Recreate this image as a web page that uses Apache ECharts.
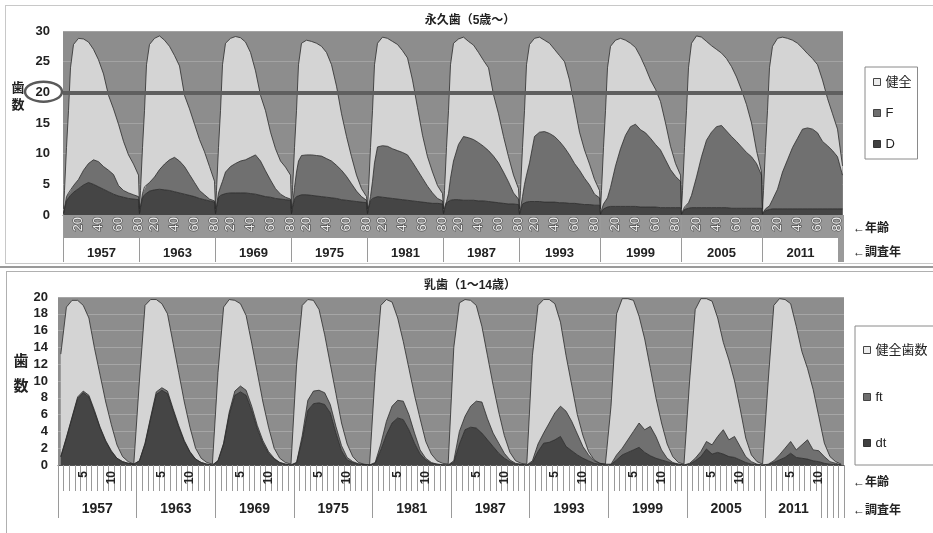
<!DOCTYPE html>
<html>
<head>
<meta charset="utf-8">
<script src="https://cdn.jsdelivr.net/npm/echarts@6/dist/echarts.min.js"></script>
<style>
  html, body { margin: 0; padding: 0; background: #fff; width: 933px; height: 533px; overflow: hidden; position: relative; }
  #frameTop { position: absolute; left: 5px; top: 5px; width: 940px; height: 257px; border: 1px solid #c8c8c8; }
  #sep { position: absolute; left: 0; top: 266px; width: 933px; border-top: 2px solid #9a9a9a; }
  #frameBottom { position: absolute; left: 6px; top: 271px; width: 940px; height: 280px; border: 1px solid #b0b0b0; }
  #chartTop { position: absolute; left: 0; top: 0; width: 933px; height: 265px; }
  #chartBottom { position: absolute; left: 0; top: 265px; width: 933px; height: 268px; }
</style>
</head>
<body>
<div id="frameTop"></div>
<div id="sep"></div>
<div id="frameBottom"></div>
<div id="chartTop"></div>
<div id="chartBottom"></div>
<script>
const FONT = "'Liberation Sans', 'Noto Sans CJK JP', sans-serif";
const PLOT_BG = '#8d8d8d';

// ---- 永久歯 (5歳〜) ----
const permYears = ['1957', '1963', '1969', '1975', '1981', '1987', '1993', '1999', '2005', '2011'];
const permLastAge = [80, 80, 80, 80, 80, 80, 85, 85, 85, 85];
const permLabelLastAge = [80, 80, 80, 80, 80, 80, 85, 85, 85, 80];
const permAges = [5, 6, 8, 10, 12, 15, 20, 25, 30, 35, 40, 45, 50, 55, 60, 65, 70, 75, 80, 85];
const permAgeTicks = [20, 40, 60, 80];
// D
const permD = [
  [0.2, 1, 2.3, 2.8, 3.2, 3.7, 4.3, 4.9, 5.3, 5, 4.6, 4.2, 3.8, 3.4, 3.1, 2.9, 2.7, 2.6, 2.5],
  [0.2, 1.2, 2.8, 3.3, 3.6, 3.9, 4.1, 4.2, 4.1, 4, 3.8, 3.6, 3.4, 3.2, 3, 2.7, 2.5, 2.3, 2.1],
  [0.2, 1.2, 2.8, 3.2, 3.4, 3.5, 3.6, 3.6, 3.6, 3.6, 3.5, 3.4, 3.2, 3, 2.9, 2.7, 2.6, 2.5, 2.4],
  [0.2, 1.2, 2.6, 3, 3.2, 3.3, 3.3, 3.2, 3.1, 3, 2.9, 2.8, 2.7, 2.5, 2.4, 2.3, 2.2, 2.1, 2],
  [0.2, 1.1, 2.3, 2.7, 2.9, 3, 2.9, 2.8, 2.7, 2.6, 2.5, 2.4, 2.3, 2.2, 2.1, 2, 1.9, 1.9, 1.8],
  [0.2, 0.9, 2, 2.3, 2.4, 2.5, 2.5, 2.4, 2.4, 2.4, 2.3, 2.3, 2.2, 2.1, 2, 1.9, 1.8, 1.8, 1.7],
  [0.1, 0.7, 1.8, 2, 2.1, 2.2, 2.2, 2.2, 2.1, 2.1, 2.1, 2, 2, 1.9, 1.9, 1.8, 1.7, 1.7, 1.6, 1.6],
  [0.1, 0.5, 1, 1.2, 1.3, 1.4, 1.4, 1.4, 1.4, 1.4, 1.4, 1.3, 1.3, 1.3, 1.3, 1.2, 1.2, 1.2, 1.2, 1.2],
  [0.1, 0.4, 0.9, 1, 1.1, 1.2, 1.2, 1.2, 1.2, 1.2, 1.2, 1.2, 1.2, 1.1, 1.1, 1.1, 1.1, 1.1, 1.1, 1.1],
  [0.1, 0.3, 0.7, 0.8, 0.9, 1, 1, 1, 1, 1, 1, 1, 1, 1, 1, 1, 1, 1, 1, 1]
];
// F
const permF = [
  [0.1, 0.2, 0.7, 0.8, 0.7, 1.1, 1.5, 2.4, 3.1, 4, 4.1, 3.7, 3.5, 3.2, 1.7, 1.1, 0.9, 0.7, 0.5],
  [0.1, 0.3, 0.7, 1.3, 1.3, 1.4, 2.1, 3.2, 4.2, 5, 5.6, 5.2, 4.5, 3.4, 2.3, 1.3, 0.8, 0.3, 0.2],
  [0.1, 0.3, 0.8, 1.4, 2.1, 3.5, 4.3, 4.8, 5.2, 5.4, 5.9, 6.4, 5.6, 4.2, 2.8, 1.6, 0.8, 0.4, 0.2],
  [0.1, 0.3, 1.9, 4, 5.6, 6.4, 6.5, 6.6, 6.6, 6.6, 6.3, 6, 5.4, 4.8, 3.9, 2.8, 1.7, 0.9, 0.4],
  [0.1, 0.2, 0.7, 2.8, 5.6, 8.1, 8.4, 8.4, 8.1, 7.9, 7.7, 7.4, 6.3, 5.1, 3.9, 2.7, 1.7, 0.8, 0.5],
  [0.1, 0.3, 0.2, 1.2, 3.6, 6.3, 9, 10.4, 10.2, 9.9, 9.5, 8.9, 8.3, 7.5, 6.5, 5.1, 3.6, 1.8, 0.9],
  [0.1, 0.3, 1.2, 3, 4.4, 6.3, 10.6, 11.3, 11.5, 11.2, 10.7, 10, 9, 7.9, 6.5, 5.5, 4.3, 3.2, 1.8, 1.2],
  [0.1, 0.3, 0.8, 1.1, 1.5, 3.1, 6.6, 9.4, 11.6, 13, 13.4, 12.6, 12.1, 11.2, 10.2, 9.4, 7.8, 6.2, 5.1, 4.3],
  [0.1, 0.2, 0.4, 0.6, 0.9, 2, 5, 8.3, 11, 12.3, 13.2, 13.4, 12.5, 11.7, 10.9, 10, 9.1, 8.4, 7.3, 5.4],
  [0.1, 0.2, 0.3, 0.4, 0.6, 1.5, 3.2, 6, 8, 10, 11.5, 13, 13.2, 13, 12.4, 11, 10.3, 9.5, 8.5, 5.5]
];
// 健全
const permS = [
  [0.7, 2.8, 8, 13.4, 20.1, 23, 23, 21.4, 19.8, 18, 16.6, 15.1, 12.2, 10.7, 10, 8, 6.2, 5, 3.5],
  [0.7, 2.5, 7.5, 12.4, 19.6, 22.5, 22.6, 21.8, 20.2, 18.5, 16.6, 15.5, 11.6, 10.7, 9.5, 8.3, 7, 5.3, 3.2],
  [0.7, 2.5, 7.4, 12.4, 19, 21, 20.9, 20.7, 20.1, 19.2, 17.1, 13.7, 10.7, 9.8, 7.8, 6.5, 5.4, 4.9, 3.9],
  [0.7, 2.5, 6.5, 10, 15.7, 18.3, 18.7, 18.5, 18.3, 17.9, 17.3, 15.7, 12.9, 9.2, 6.5, 4.4, 2.6, 1.3, 0.6],
  [0.7, 2.7, 8, 11.5, 16, 16.9, 17.7, 17.6, 17.5, 17.3, 16.6, 15.8, 13.4, 10.2, 7, 4.8, 3.4, 2.1, 1.2],
  [0.7, 2.8, 8.8, 13.5, 18.5, 19.2, 17.2, 16.2, 15.7, 15.4, 14.7, 14, 13.5, 10, 8, 5.8, 4.1, 2.9, 1.7],
  [0.8, 3, 8, 12, 18, 19.3, 16, 15.5, 14.9, 14.7, 14.2, 14, 14, 12.2, 9.4, 6.2, 4.6, 3.4, 2.4, 1.2],
  [0.8, 3.2, 9.2, 14.7, 21.2, 23, 20.5, 18, 15.5, 13.6, 12.5, 11.9, 10.6, 9.5, 9, 7.9, 6, 3.8, 2.1, 1],
  [0.8, 3.4, 9.7, 15.4, 22, 24.8, 23, 19.5, 16.1, 14.1, 12.6, 11.8, 11.8, 11.4, 10.5, 9.3, 7.8, 5.5, 2.1, 0.5],
  [0.8, 3.5, 10, 15.8, 22.5, 25, 24.6, 22, 19.8, 17.5, 15.5, 13.2, 12.1, 11.5, 11.1, 10, 7.7, 6, 4.5, 1.5]
];

// ---- 乳歯 (1〜14歳) ----
const babyYears = ['1957', '1963', '1969', '1975', '1981', '1987', '1993', '1999', '2005', '2011'];
const babyLastAge = [14, 14, 14, 14, 14, 14, 14, 14, 14, 14];
const babyLabelLastAge = [14, 14, 14, 14, 14, 14, 14, 14, 14, 10];
const babyAges = [1, 2, 3, 4, 5, 6, 7, 8, 9, 10, 11, 12, 13, 14];
const babyAgeTicks = [5, 10];
const babyDt = [
  [1, 3.2, 5.6, 7.9, 8.6, 8.1, 6.3, 4.4, 2.8, 1.6, 0.8, 0.4, 0.2, 0.1],
  [0.5, 2.5, 5.5, 8.4, 8.9, 8.5, 6.5, 4.5, 2.8, 1.5, 0.7, 0.3, 0.1, 0],
  [0.5, 2.5, 6, 8.3, 8.7, 8.3, 6.5, 4.3, 2.6, 1.4, 0.7, 0.3, 0.1, 0],
  [0.3, 3, 6.5, 7.3, 7.4, 7.2, 6.2, 3.8, 1.7, 0.6, 0.3, 0.1, 0.05, 0],
  [0.2, 1.8, 3.6, 5, 5.6, 5.4, 4.2, 2.6, 1.3, 0.6, 0.2, 0.1, 0, 0],
  [0.3, 2.5, 4.2, 4.5, 4.4, 3.8, 3, 2.2, 1.4, 0.8, 0.4, 0.1, 0.05, 0],
  [0.3, 1.6, 2.6, 2.7, 3, 3.4, 2.2, 1.7, 1.2, 0.8, 0.5, 0.2, 0.1, 0],
  [0.05, 0.6, 1.2, 1.5, 1.8, 2.1, 1.5, 1.1, 0.8, 0.6, 0.4, 0.2, 0.1, 0],
  [0.1, 0.5, 1, 1.9, 1.3, 1.5, 1.3, 1, 0.9, 0.6, 0.3, 0.1, 0.05, 0],
  [0.05, 0.3, 0.6, 0.9, 1.4, 0.9, 0.8, 0.7, 0.5, 0.4, 0.2, 0.1, 0.05, 0]
];
const babyFt = [
  [0, 0.1, 0.1, 0.2, 0.2, 0.2, 0.2, 0.1, 0.1, 0.1, 0, 0, 0, 0],
  [0, 0.1, 0.2, 0.3, 0.3, 0.3, 0.2, 0.2, 0.1, 0.1, 0, 0, 0, 0],
  [0, 0.1, 0.3, 0.5, 0.7, 0.6, 0.5, 0.4, 0.3, 0.2, 0.1, 0, 0, 0],
  [0, 0.5, 1.2, 1.5, 1.5, 1.4, 1, 0.8, 0.6, 0.3, 0.1, 0.05, 0, 0],
  [0.1, 0.7, 1.6, 2, 2.1, 2.2, 1.8, 1.2, 0.5, 0.2, 0.1, 0, 0.05, 0],
  [0.2, 1.5, 1.6, 2.5, 3.2, 3.7, 2.5, 1.6, 1.2, 0.6, 0.2, 0.1, 0.05, 0],
  [0.2, 0.9, 1.2, 2.3, 3.2, 3.6, 4.2, 3.5, 2.5, 1.4, 0.7, 0.3, 0.1, 0.1],
  [0.05, 0.6, 0.8, 1.5, 2.2, 2.9, 2.7, 3.5, 2.6, 1.2, 0.4, 0.1, 0, 0],
  [0.1, 0.3, 0.6, 0.9, 1.1, 1.9, 2.9, 2, 2.5, 1.6, 0.7, 0.3, 0.05, 0],
  [0.05, 0.2, 0.6, 1.1, 1.4, 0.9, 1.6, 2.3, 1.3, 1.3, 0.8, 0.3, 0.15, 0]
];
const babyS = [
  [12.2, 15.5, 13.9, 11.5, 10.2, 9.2, 7.4, 6.2, 4.6, 3.1, 1.6, 0.6, 0.2, 0],
  [9.5, 16.4, 14, 11, 10, 9.2, 7.8, 6.3, 4.6, 2.9, 1.3, 0.5, 0.2, 0.1],
  [10.5, 16.2, 13.4, 10.8, 9.8, 8.9, 7.5, 6.3, 4.6, 2.9, 1.2, 0.5, 0.2, 0.1],
  [11.7, 15.5, 12, 10.8, 9.6, 6.9, 4.8, 3.9, 2.7, 1.6, 0.6, 0.15, 0.05, 0],
  [10.7, 16.5, 14.5, 12.4, 9.8, 7.1, 5.5, 4.5, 3.7, 2, 1, 0.4, 0.15, 0.1],
  [13.5, 15.3, 13.9, 12.6, 11.4, 9, 7.5, 5.7, 3.7, 2.1, 0.9, 0.3, 0.1, 0.1],
  [12.5, 16.5, 15.9, 14.7, 13, 10, 6.6, 4.3, 2.3, 1.3, 0.4, 0.1, 0, 0],
  [6.9, 16.8, 17.8, 16.8, 15.6, 12.7, 10.8, 6.9, 4.6, 3.2, 1.7, 0.7, 0.2, 0.1],
  [9.8, 17.7, 18.2, 17, 17.1, 14.1, 10.4, 9.5, 6.6, 4.5, 2.2, 0.8, 0.3, 0.1],
  [9.9, 18.5, 18.6, 17.7, 16.4, 14.7, 11.1, 8.5, 7.2, 4.1, 1.6, 0.6, 0.2, 0.1]
];

// one category per age, groups of ages per survey year
function makeCats(years, firstAge, lastAges) {
  const cats = [], starts = [];
  years.forEach((y, g) => {
    starts.push(cats.length);
    for (let a = firstAge; a <= lastAges[g]; a++) cats.push(y + '_' + a);
  });
  return { cats, starts };
}

// where the year separators go and where each year label sits
function yearMarks(years, firstAge, lastAges, labelLastAges, starts) {
  const ticks = new Set(), labels = {};
  years.forEach((y, g) => {
    const s = starts[g];
    const span = labelLastAges[g] - firstAge + 1;
    const n = lastAges[g] - firstAge + 1;
    ticks.add(s);
    for (let i = span; i < n; i++) ticks.add(s + i);
    labels[s + Math.floor(span / 2)] = y;
  });
  return { ticks, labels };
}

function toPoints(rows, ages, firstAge, starts) {
  const out = [];
  rows.forEach((row, g) => {
    row.forEach((v, i) => out.push([starts[g] + ages[i] - firstAge, v]));
  });
  return out;
}

function area(name, data, fill, extra) {
  return Object.assign({
    name: name,
    type: 'line',
    stack: 'total',
    data: data,
    symbol: 'none',
    showSymbol: false,
    lineStyle: { color: '#2b2b2b', width: 0.8 },
    areaStyle: { color: fill, opacity: 1 },
    itemStyle: { color: fill },
    emphasis: { disabled: true }
  }, extra || {});
}

function txt(x, y, text, size, align, lineHeight) {
  return {
    type: 'text', x: x, y: y, z: 20,
    style: {
      text: text, font: 'bold ' + size + 'px ' + FONT, fill: '#222',
      align: align, textAlign: align, verticalAlign: 'middle', textVerticalAlign: 'middle',
      lineHeight: lineHeight || size
    }
  };
}

// ---------------- top chart ----------------
const topCats = makeCats(permYears, 5, permLastAge);
const topMarks = yearMarks(permYears, 5, permLastAge, permLabelLastAge, topCats.starts);

const chartTop = echarts.init(document.getElementById('chartTop'));
chartTop.setOption({
  animation: false,
  textStyle: { fontFamily: FONT },
  grid: { left: 63, top: 31, width: 780, height: 184, show: true, backgroundColor: PLOT_BG, borderWidth: 0 },
  legend: {
    orient: 'vertical', left: 865, top: 67,
    padding: [8, 6, 8, 8], itemGap: 17, itemWidth: 7, itemHeight: 7, icon: 'rect',
    borderColor: '#8a8a8a', borderWidth: 1,
    textStyle: { fontSize: 13, lineHeight: 14, color: '#222', fontFamily: FONT },
    data: [
      { name: '健全', itemStyle: { color: '#ececec', borderColor: '#444', borderWidth: 1 } },
      { name: 'F', itemStyle: { color: '#6e6e6e', borderColor: '#444', borderWidth: 1 } },
      { name: 'D', itemStyle: { color: '#404040', borderColor: '#333', borderWidth: 1 } }
    ]
  },
  xAxis: [
    {
      type: 'category', data: topCats.cats, boundaryGap: true, position: 'bottom',
      axisLine: { show: true, lineStyle: { color: '#555' } },
      axisTick: { show: true, interval: 0, length: 23, lineStyle: { color: '#979797', width: 1 } },
      axisLabel: {
        show: true, interval: 0, rotate: 90, margin: 2, fontSize: 13, color: '#eeeeee',
        textBorderColor: '#505050', textBorderWidth: 1.2,
        formatter: v => { const a = +v.split('_')[1]; return permAgeTicks.includes(a) ? String(a) : ''; }
      }
    },
    {
      type: 'category', data: topCats.cats, boundaryGap: true, position: 'bottom',
      axisLine: { show: false },
      axisTick: { show: true, interval: i => topMarks.ticks.has(i), length: 47, lineStyle: { color: '#9a9a9a', width: 1 } },
      axisLabel: {
        show: true, interval: 0, margin: 32, fontSize: 13, fontWeight: 'bold', color: '#222',
        formatter: (v, i) => topMarks.labels[i] || ''
      }
    }
  ],
  yAxis: {
    type: 'value', min: 0, max: 30, interval: 5,
    axisLine: { show: false }, axisTick: { show: false },
    splitLine: { lineStyle: { color: '#a3a3a3' } },
    axisLabel: { margin: 13, fontSize: 13, fontWeight: 'bold', color: '#222' }
  },
  series: [
    area('D', toPoints(permD, permAges, 5, topCats.starts), '#454545'),
    area('F', toPoints(permF, permAges, 5, topCats.starts), '#707070'),
    area('健全', toPoints(permS, permAges, 5, topCats.starts), '#d4d4d4', {
      markLine: {
        silent: true, symbol: ['none', 'none'], label: { show: false },
        lineStyle: { color: '#5f5f5f', width: 4, type: 'solid' },
        data: [{ yAxis: 20 }]
      }
    })
  ],
  graphic: [
    txt(470, 21, '永久歯（5歳〜）', 12, 'center'),
    txt(18, 97, '歯\n数', 13, 'center', 17),
    { type: 'ellipse', z: 30, shape: { cx: 43.5, cy: 91.7, rx: 18.5, ry: 10 }, style: { fill: 'none', stroke: '#5a5a5a', lineWidth: 2.5 } },
    txt(853, 229, '←年齢', 12, 'left'),
    txt(853, 253, '←調査年', 12, 'left')
  ]
});

// ---------------- bottom chart ----------------
const botCats = makeCats(babyYears, 1, babyLastAge);
const botMarks = yearMarks(babyYears, 1, babyLastAge, babyLabelLastAge, botCats.starts);

const chartBottom = echarts.init(document.getElementById('chartBottom'));
chartBottom.setOption({
  animation: false,
  textStyle: { fontFamily: FONT },
  grid: { left: 58, top: 32, width: 786, height: 168, show: true, backgroundColor: PLOT_BG, borderWidth: 0 },
  legend: {
    orient: 'vertical', left: 855, top: 61,
    padding: [16, 6, 15, 8], itemGap: 32, itemWidth: 7, itemHeight: 7, icon: 'rect',
    borderColor: '#8a8a8a', borderWidth: 1,
    textStyle: { fontSize: 13, lineHeight: 14, color: '#222', fontFamily: FONT },
    data: [
      { name: '健全歯数', itemStyle: { color: '#ececec', borderColor: '#444', borderWidth: 1 }, textStyle: { fontSize: 13, lineHeight: 16 } },
      { name: 'ft', itemStyle: { color: '#6e6e6e', borderColor: '#444', borderWidth: 1 } },
      { name: 'dt', itemStyle: { color: '#404040', borderColor: '#333', borderWidth: 1 } }
    ]
  },
  xAxis: [
    {
      type: 'category', data: botCats.cats, boundaryGap: true, position: 'bottom',
      axisLine: { show: true, lineStyle: { color: '#555' } },
      axisTick: { show: true, interval: 0, length: 26, lineStyle: { color: '#9a9a9a', width: 1 } },
      axisLabel: {
        show: true, interval: 0, rotate: 90, margin: 6, fontSize: 12, fontWeight: 'bold', color: '#222',
        formatter: v => { const a = +v.split('_')[1]; return babyAgeTicks.includes(a) ? String(a) : ''; }
      }
    },
    {
      type: 'category', data: botCats.cats, boundaryGap: true, position: 'bottom',
      axisLine: { show: false },
      axisTick: { show: true, interval: i => botMarks.ticks.has(i), length: 53, lineStyle: { color: '#9a9a9a', width: 1 } },
      axisLabel: {
        show: true, interval: 0, margin: 37, fontSize: 14, fontWeight: 'bold', color: '#222', padding: [0, 5.6, 0, 0],
        formatter: (v, i) => botMarks.labels[i] || ''
      }
    }
  ],
  yAxis: {
    type: 'value', min: 0, max: 20, interval: 2,
    axisLine: { show: false }, axisTick: { show: false },
    splitLine: { lineStyle: { color: '#a6a6a6' } },
    axisLabel: { margin: 10, fontSize: 13, fontWeight: 'bold', color: '#222' }
  },
  series: [
    area('dt', toPoints(babyDt, babyAges, 1, botCats.starts), '#454545'),
    area('ft', toPoints(babyFt, babyAges, 1, botCats.starts), '#707070'),
    area('健全歯数', toPoints(babyS, babyAges, 1, botCats.starts), '#d4d4d4')
  ],
  graphic: [
    txt(470, 21, '乳歯（1〜14歳）', 12, 'center'),
    txt(21, 109, '歯\n数', 15, 'center', 25),
    txt(853, 218, '←年齢', 12, 'left'),
    txt(853, 246, '←調査年', 12, 'left')
  ]
});
</script>
</body>
</html>
